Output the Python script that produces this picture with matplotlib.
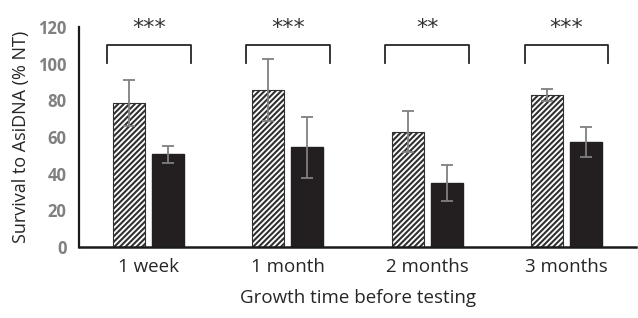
import matplotlib

matplotlib.use("Agg")
import matplotlib.pyplot as plt
import numpy as np

plt.rcParams["font.family"] = ["Open Sans", "DejaVu Sans"]
plt.rcParams["hatch.linewidth"] = 1.5

categories = ["1 week", "1 month", "2 months", "3 months"]
hatched_vals = [78.5, 85.5, 62.9, 83.1]
hatched_err = [12.5, 17.0, 11.2, 3.3]
black_vals = [50.5, 54.4, 34.7, 57.1]
black_err = [4.6, 16.5, 9.8, 8.2]
stars = ["***", "***", "**", "***"]

fig = plt.figure(figsize=(6.38, 3.18), dpi=100)
ax = fig.add_axes([0.124, 0.223, 0.873, 0.692])

x = np.arange(len(categories))
w = 0.23
off = 0.14
ax.bar(x - off, hatched_vals, w, color="white", edgecolor="#303030", hatch="/" * 6,
       linewidth=0.8)
ax.bar(x + off, black_vals, w, color="#231f20", edgecolor="#231f20")
ax.errorbar(x - off, hatched_vals, yerr=hatched_err, fmt="none", ecolor="#808080",
            elinewidth=1.3, capsize=4, capthick=1.3)
ax.errorbar(x + off, black_vals, yerr=black_err, fmt="none", ecolor="#808080",
            elinewidth=1.3, capsize=4, capthick=1.3)

# significance brackets
for i, s in enumerate(stars):
    x0, x1 = i - 0.3, i + 0.3
    ax.plot([x0, x0, x1, x1], [100.2, 110.2, 110.2, 100.2], color="#262626", lw=1.3,
            clip_on=False, solid_joinstyle="round")
    ax.text(i, 119.5, s, ha="center", va="center", fontsize=16, color="#333333",
            family="DejaVu Sans", clip_on=False)

ax.set_xlim(-0.5, 3.5)
ax.set_ylim(0, 120)
ax.set_yticks([0, 20, 40, 60, 80, 100, 120])
ax.set_xticks(x)
ax.set_xticklabels(categories, fontsize=13.5, color="#262626")
ax.tick_params(axis="y", length=0, pad=9, labelsize=12, labelcolor="#808080")
ax.tick_params(axis="x", length=0, pad=8)
for lab in ax.get_yticklabels():
    lab.set_fontweight("bold")
ax.spines["top"].set_visible(False)
ax.spines["right"].set_visible(False)
ax.spines["left"].set_linewidth(1.6)
ax.spines["bottom"].set_linewidth(1.8)
ax.spines["left"].set_color("#1a1a1a")
ax.spines["bottom"].set_color("#1a1a1a")
ax.set_xlabel("Growth time before testing", fontsize=13.5, color="#262626", labelpad=9)
ax.set_ylabel("Survival to AsiDNA (% NT)", fontsize=13, color="#262626", labelpad=6)

plt.savefig("out.png", dpi=100)
